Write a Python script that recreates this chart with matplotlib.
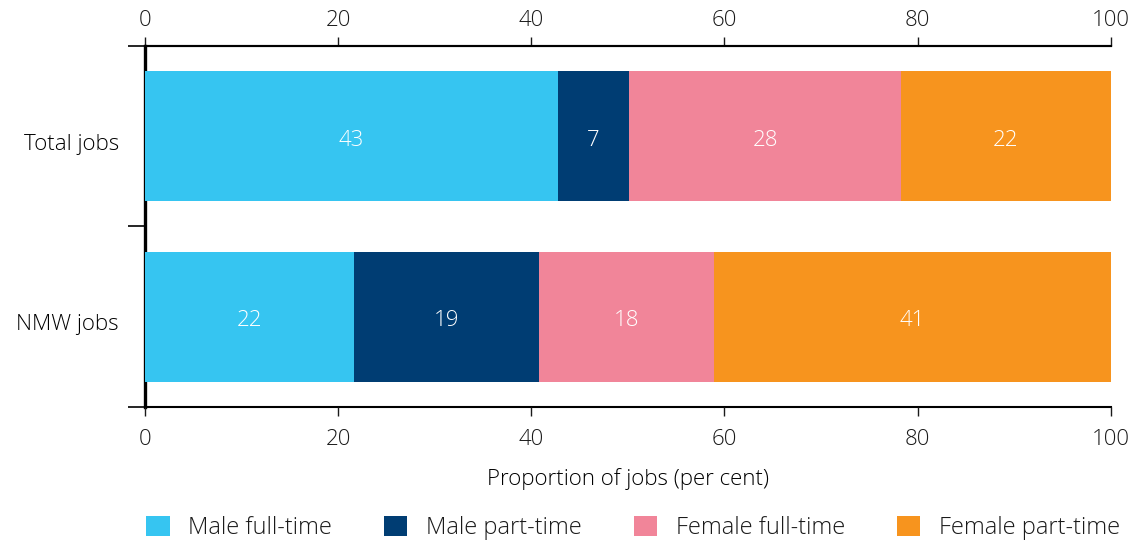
"""
Stacked horizontal bars: share of total jobs and NMW jobs by sex and
full-time / part-time status.
"""

import matplotlib
matplotlib.use('Agg')
import matplotlib.pyplot as plt
from matplotlib.transforms import ScaledTranslation
import numpy as np


CATEGORIES = ['Total jobs', 'NMW jobs']

SERIES_NAMES = [
    'Male full-time', 'Male part-time', 'Female full-time', 'Female part-time']

MALE_FULL_TIME = [42.7, 21.6]
MALE_PART_TIME = [7.4, 19.2]
FEMALE_FULL_TIME = [28.2, 18.1]
FEMALE_PART_TIME = [21.7, 41.1]

X_TICKS = [0, 20, 40, 60, 80, 100]
X_LABEL = 'Proportion of jobs (per cent)'

COLORS = ['#36C5F1', '#003D73', '#F18599', '#F7941E']

FONT = ['Open Sans', 'Noto Sans', 'DejaVu Sans']
FONT_SIZE = 16
LEGEND_FONT_SIZE = 17
WEIGHT = 300
TEXT_COLOR = '#1a1a1a'


def main():

    plt.rcParams['font.family'] = FONT
    plt.rcParams['font.weight'] = WEIGHT
    plt.rcParams['axes.labelweight'] = WEIGHT
    plt.rcParams['text.color'] = TEXT_COLOR

    fig = plt.figure(figsize=(11.39, 5.41), dpi=100)
    ax = fig.add_axes([0.1277, 0.2477, 0.8473, 0.6673])

    series = [MALE_FULL_TIME, MALE_PART_TIME, FEMALE_FULL_TIME,
              FEMALE_PART_TIME]
    y = np.arange(len(CATEGORIES))
    left = np.zeros(len(CATEGORIES))

    handles = []
    for name, values, color in zip(SERIES_NAMES, series, COLORS):
        bars = ax.barh(y, values, left=left, height=0.72, color=color,
                       label=name, zorder=3)
        labels = ax.bar_label(bars, labels=[f'{v:.0f}' for v in values],
                              label_type='center', color='white',
                              fontsize=FONT_SIZE, fontweight=WEIGHT)
        for label in labels:
            label.xyann = (0, -3)
        left = left + np.array(values)
        handles.append(bars)

    ax.set_xlim(0, 100)
    ax.set_ylim(1.5, -0.5)

    # bottom axis
    ax.set_xticks(X_TICKS)
    ax.tick_params(axis='x', which='major', direction='out', length=6.5,
                   width=1, labelsize=FONT_SIZE, pad=9, colors=TEXT_COLOR)

    # top axis
    top = ax.secondary_xaxis('top')
    top.set_xticks(X_TICKS)
    top.tick_params(axis='x', which='major', direction='out', length=6.5,
                    width=1, labelsize=FONT_SIZE, pad=4, colors=TEXT_COLOR)
    top.spines['top'].set_linewidth(1.5)
    top.spines['top'].set_zorder(1)

    ax.set_yticks(y)
    ax.set_yticklabels(CATEGORIES)
    ax.set_yticks([-0.5, 0.5, 1.5], minor=True)
    ax.tick_params(axis='y', which='major', length=0, labelsize=FONT_SIZE,
                   pad=19)
    ax.tick_params(axis='y', which='minor', length=12, width=1.2,
                   direction='out')
    shift = ScaledTranslation(0, -4 / 72, fig.dpi_scale_trans)
    for label in ax.get_yticklabels():
        label.set_transform(label.get_transform() + shift)

    for side in ('top', 'bottom'):
        ax.spines[side].set_linewidth(1.5)
        ax.spines[side].set_zorder(1)
    ax.spines['left'].set_linewidth(2.4)
    ax.spines['left'].set_zorder(1)
    ax.spines['right'].set_visible(False)

    ax.set_xlabel(X_LABEL, fontsize=FONT_SIZE, labelpad=13)

    fig.legend(handles=handles, loc='lower left',
               bbox_to_anchor=(0.114, -0.029), ncol=4, frameon=False,
               fontsize=LEGEND_FONT_SIZE, handlelength=0.98,
               handleheight=0.98, handletextpad=0.8, columnspacing=2.2,
               borderaxespad=0.3)

    fig.savefig('out.png', dpi=100)


if __name__ == '__main__':
    main()
